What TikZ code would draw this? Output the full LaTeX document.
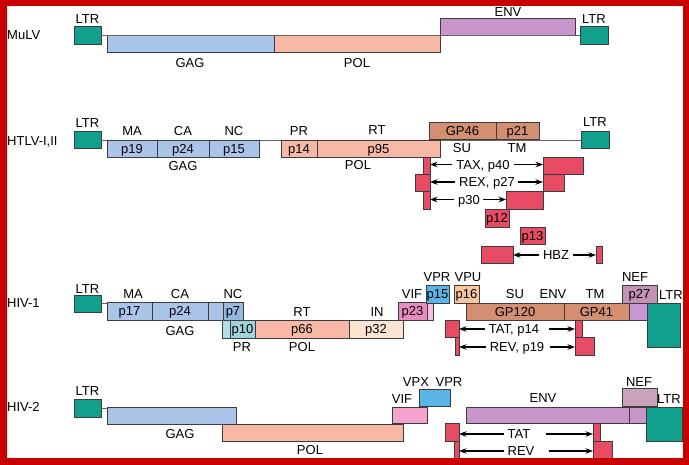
\documentclass[tikz,border=0pt]{standalone}
\usepackage{fontspec}
\setmainfont{Liberation Sans}
\usetikzlibrary{arrows.meta}
\definecolor{frame}{RGB}{200,0,0}
\definecolor{boxline}{RGB}{60,60,60}
\definecolor{lineg}{RGB}{100,100,100}
\definecolor{ltr}{RGB}{16,160,140}
\definecolor{gag}{RGB}{170,196,234}
\definecolor{p7col}{RGB}{150,184,222}
\definecolor{pol}{RGB}{248,184,166}
\definecolor{envp}{RGB}{200,150,202}
\definecolor{envb}{RGB}{212,142,112}
\definecolor{tat}{RGB}{232,76,100}
\definecolor{vif}{RGB}{232,140,192}
\definecolor{vifb}{RGB}{242,164,206}
\definecolor{vifs}{RGB}{246,192,222}
\definecolor{vpr}{RGB}{90,180,230}
\definecolor{vpu}{RGB}{248,200,156}
\definecolor{nef}{RGB}{194,146,178}
\definecolor{nefb}{RGB}{202,162,186}
\definecolor{nefs}{RGB}{200,150,210}
\definecolor{pr}{RGB}{160,212,220}
\definecolor{prl}{RGB}{180,222,230}
\definecolor{inp}{RGB}{252,228,212}
\newcommand\lblfont{\fontsize{13}{15.5}\selectfont}
\newcommand\gb[8][]{\node[gbox,fill=#7,minimum width={#5pt-#3pt},minimum height={#6pt-#4pt},#1] (#2) at ({(#3+#5)/2},{(#4+#6)/2}) {#8};}
\begin{document}
\begin{tikzpicture}[x=1pt,y=-1pt,
  gbox/.style={draw=boxline,line width=0.8pt,rectangle,inner sep=0pt,outer sep=0pt,font=\lblfont,text height=9.3pt,text depth=0pt},
  lbl/.style={inner sep=0pt,font=\lblfont,text height=9.3pt,text depth=0pt},
  bb/.style={draw=lineg,line width=0.8pt},
  arr/.style={-{Stealth[length=7.5pt,width=5.5pt]},line width=1.1pt}]
\useasboundingbox (0,0) rectangle (689,465);
\fill[white] (0,0) rectangle (689,465);

% ---------------- MuLV ----------------
\node[lbl,anchor=west] (mulv) at (7,35) {MuLV};
\gb{mltrL}{74}{26}{101}{44}{ltr}{}
\gb{mgag}{107}{35}{274}{52}{gag}{}
\gb{mpol}{274}{35}{440}{52}{pol}{}
\gb{menv}{440}{18}{575}{35}{envp}{}
\gb{mltrR}{580}{26}{608}{44}{ltr}{}
\draw[bb] (mltrL.east) -- (mltrL.east -| mltrR.west);
\node[lbl] (mltrLt) at (87.5,19) {LTR};
\node[lbl] (mgagt) at (190,63) {GAG};
\node[lbl] (mpolt) at (357,63) {POL};
\node[lbl] (menvt) at (508,11.5) {ENV};
\node[lbl] (mltrRt) at (594,19) {LTR};

% ---------------- HTLV ----------------
\node[lbl,anchor=west] (htlv) at (7,141) {HTLV-I,II};
\gb{hltrL}{74}{131}{101}{148}{ltr}{}
\gb{hltrR}{581}{131}{609}{148}{ltr}{}
\draw[bb] (hltrL.east |- 0,140) -- (hltrR.west |- 0,140);
\gb{hp19}{107}{140}{157}{157}{gag}{p19}
\gb{hp24}{157}{140}{209}{157}{gag}{p24}
\gb{hp15}{209}{140}{259}{157}{gag}{p15}
\gb{hp14}{281}{140}{317}{157}{pol}{p14}
\gb{hp95}{317}{140}{440}{157}{pol}{p95}
\gb{hgp46}{429}{122}{496}{139}{envb}{GP46}
\gb{hp21}{496}{122}{539}{139}{envb}{p21}
\node[lbl] (hltrLt) at (87.5,123) {LTR};
\node[lbl] (hma) at (132,131) {MA};
\node[lbl] (hca) at (183,131) {CA};
\node[lbl] (hnc) at (234,131) {NC};
\node[lbl] (hgag) at (183,166) {GAG};
\node[lbl] (hpr) at (299,131) {PR};
\node[lbl] (hrt) at (377,130) {RT};
\node[lbl] (hpol) at (358,165) {POL};
\node[lbl] (hsu) at (462,148) {SU};
\node[lbl] (htm) at (517,148) {TM};
\node[lbl] (hltrRt) at (595,122) {LTR};
% accessory
\gb{taxL}{423}{157}{430}{174}{tat}{}
\gb{rexL}{415}{174}{430}{191}{tat}{}
\gb{p30L}{423}{191}{430}{209}{tat}{}
\gb{taxR}{543}{157}{583}{174}{tat}{}
\gb{rexR}{543}{174}{564}{191}{tat}{}
\gb{p30R}{506}{191}{543}{209}{tat}{}
\gb{p12}{485}{209}{509}{227}{tat}{p12}
\gb{p13}{520}{227}{545}{244}{tat}{p13}
\gb{hbzL}{481}{246}{513}{263}{tat}{}
\gb{hbzR}{596}{246}{602}{263}{tat}{}
\node[lbl] (taxT) at (483,164.5) {TAX, p40};
\node[lbl] (rexT) at (487,182) {REX, p27};
\node[lbl] (p30T) at (469,199.5) {p30};
\node[lbl] (hbzT) at (556,255) {HBZ};
\draw[arr] ([xshift=-4pt]taxT.west) -- (taxT.west -| taxL.east);
\draw[arr] ([xshift=4pt]taxT.east) -- (taxT.east -| taxR.west);
\draw[arr] ([xshift=-4pt]rexT.west) -- (rexT.west -| rexL.east);
\draw[arr] ([xshift=3pt]rexT.east) -- (rexT.east -| rexR.west);
\draw[arr] ([xshift=-4pt]p30T.west) -- (p30T.west -| p30L.east);
\draw[arr] ([xshift=3pt]p30T.east) -- (p30T.east -| p30R.west);
\draw[arr] ([xshift=-4pt]hbzT.west) -- (hbzT.west -| hbzL.east);
\draw[arr] ([xshift=4pt]hbzT.east) -- (hbzT.east -| hbzR.west);

% ---------------- HIV-1 ----------------
\node[lbl,anchor=west] (hiv1) at (7,303) {HIV-1};
\gb{altrL}{74}{295}{101}{312}{ltr}{}
\gb{ap17}{107}{302}{152}{320}{gag}{p17}
\gb{ap24}{152}{302}{208}{320}{gag}{p24}
\gb{ag3}{208}{302}{223}{320}{gag}{}
\gb{ap7}{223}{302}{243}{320}{p7col}{p7}
\draw[bb] (altrL.east) -- (altrL.east -| ap17.west);
\gb{aprl}{222}{320}{230}{338}{prl}{}
\gb{ap10}{230}{320}{255}{338}{pr}{p10}
\gb{ap66}{255}{320}{349}{338}{pol}{p66}
\gb{ap32}{349}{320}{403}{338}{inp}{p32}
\gb{ap23}{398}{302}{427}{320}{vif}{p23}
\gb{avifs}{427}{302}{433}{320}{vifs}{}
\gb{ap15}{426}{285}{449}{303}{vpr}{p15}
\gb{ap16}{454}{285}{479}{303}{vpu}{p16}
\gb{agp120}{466}{303}{564}{320}{envb}{GP120}
\gb{agp41}{564}{303}{629}{320}{envb}{GP41}
\gb{ap27}{622}{285}{657}{303}{nef}{p27}
\gb{anefs}{629}{303}{647}{320}{nefs}{}
\gb{altrR}{647}{303}{680}{347}{ltr}{}
\gb{atatL}{445}{320}{459}{337}{tat}{}
\gb{arevL}{455}{337}{459}{355}{tat}{}
\gb{atatR}{575}{320}{582}{337}{tat}{}
\gb{arevR}{575}{337}{594}{355}{tat}{}
\node[lbl] (altrLt) at (87.5,289) {LTR};
\node[lbl] (ama) at (133,294) {MA};
\node[lbl] (aca) at (180,294) {CA};
\node[lbl] (anc) at (233,294) {NC};
\node[lbl] (agag) at (180,331) {GAG};
\node[lbl] (apr) at (242,347) {PR};
\node[lbl] (art) at (302,312) {RT};
\node[lbl] (apol) at (302,347) {POL};
\node[lbl] (ain) at (377,312) {IN};
\node[lbl] (avif) at (412,294) {VIF};
\node[lbl] (avpr) at (437,277) {VPR};
\node[lbl] (avpu) at (468,277) {VPU};
\node[lbl] (asu) at (515,294) {SU};
\node[lbl] (aenv) at (553,294) {ENV};
\node[lbl] (atm) at (595,294) {TM};
\node[lbl] (anef) at (635,277) {NEF};
\node[lbl] (altrRt) at (671,295) {LTR};
\node[lbl] (atatT) at (514,329) {TAT, p14};
\node[lbl] (arevT) at (517,347) {REV, p19};
\draw[arr] ([xshift=-4pt]atatT.west) -- (atatT.west -| atatL.east);
\draw[arr] ([xshift=10pt]atatT.east) -- (atatT.east -| atatR.west);
\draw[arr] ([xshift=-4pt]arevT.west) -- (arevT.west -| arevL.east);
\draw[arr] ([xshift=6pt]arevT.east) -- (arevT.east -| arevR.west);

% ---------------- HIV-2 ----------------
\node[lbl,anchor=west] (hiv2) at (7,407) {HIV-2};
\gb{bltrL}{74}{399}{101}{417}{ltr}{}
\gb{bgag}{107}{407}{236}{424}{gag}{}
\draw[bb] (bltrL.east) -- (bltrL.east -| bgag.west);
\gb{bpol}{222}{424}{403}{441}{pol}{}
\gb{bvif}{392}{407}{427}{423}{vifb}{}
\gb{bvpx}{419}{389}{450}{406}{vpr}{}
\gb{benv}{466}{407}{629}{423}{envp}{}
\gb{bnefs}{629}{407}{646}{423}{envp}{}
\gb{bnef}{622}{388}{657}{406}{nefb}{}
\gb{bltrR}{646}{407}{682}{441}{ltr}{}
\gb{btatL}{445}{423}{459}{441}{tat}{}
\gb{brevL}{454}{441}{459}{460}{tat}{}
\gb{btatR}{593}{423}{600}{441}{tat}{}
\gb{brevR}{593}{441}{612}{460}{tat}{}
\node[lbl] (bltrLt) at (87.5,391) {LTR};
\node[lbl] (bgagt) at (180,434) {GAG};
\node[lbl] (bpolt) at (310,450) {POL};
\node[lbl] (bvift) at (402,399) {VIF};
\node[lbl] (bvpxt) at (416,382) {VPX};
\node[lbl] (bvprt) at (449,382) {VPR};
\node[lbl] (benvt) at (543,398) {ENV};
\node[lbl] (bneft) at (639,382) {NEF};
\node[lbl] (bltrRt) at (669,399) {LTR};
\node[lbl] (btatT) at (519,434) {TAT};
\node[lbl] (brevT) at (521,451) {REV};
\draw[arr] ([xshift=-3pt]btatT.west) -- (btatT.west -| btatL.east);
\draw[arr] ([xshift=15pt]btatT.east) -- (btatT.east -| btatR.west);
\draw[arr] ([xshift=-3pt]brevT.west) -- (brevT.west -| brevL.east);
\draw[arr] ([xshift=14pt]brevT.east) -- (brevT.east -| brevR.west);

% ---------------- frame ----------------
\fill[frame,even odd rule] (0,0) rectangle (689,465) (7,6) rectangle (683,458);
\end{tikzpicture}
\end{document}
